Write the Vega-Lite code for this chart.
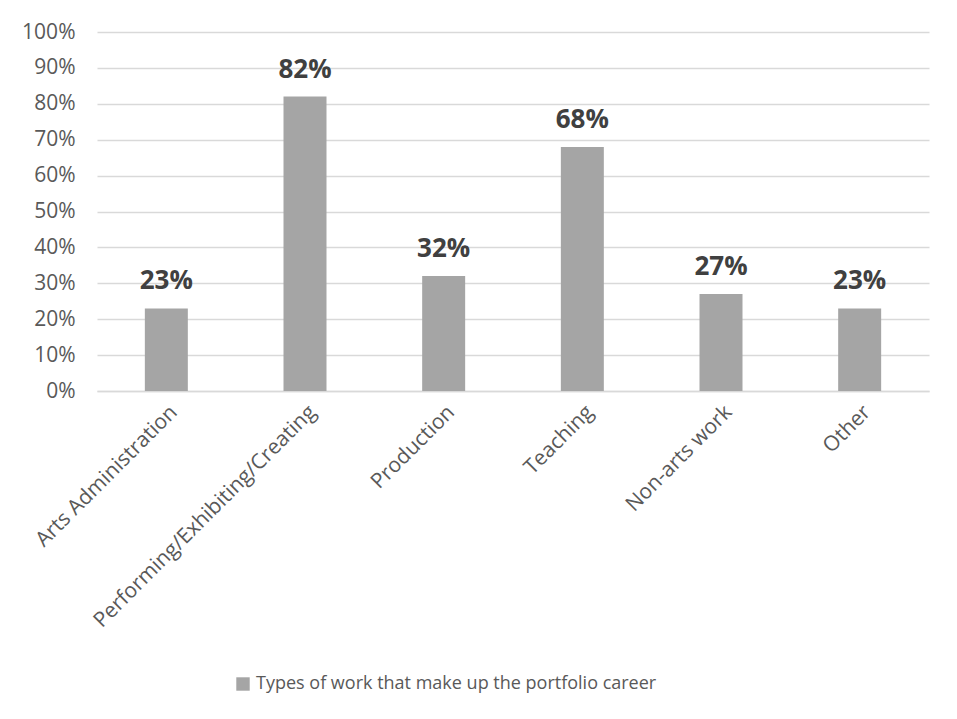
{
  "$schema": "https://vega.github.io/schema/vega-lite/v6.json",
  "width": 832,
  "height": 359,
  "autosize": {"type": "none"},
  "padding": {"left": 97, "top": 32, "right": 28, "bottom": 328},
  "background": "white",
  "config": {
    "view": {"stroke": null},
    "font": "Open Sans"
  },
  "data": {
    "values": [
      {"type": "Arts Administration", "value": 0.23, "series": "Types of work that make up the portfolio career"},
      {"type": "Performing/Exhibiting/Creating", "value": 0.82, "series": "Types of work that make up the portfolio career"},
      {"type": "Production", "value": 0.32, "series": "Types of work that make up the portfolio career"},
      {"type": "Teaching", "value": 0.68, "series": "Types of work that make up the portfolio career"},
      {"type": "Non-arts work", "value": 0.27, "series": "Types of work that make up the portfolio career"},
      {"type": "Other", "value": 0.23, "series": "Types of work that make up the portfolio career"}
    ]
  },
  "encoding": {
    "x": {
      "field": "type",
      "type": "nominal",
      "sort": null,
      "scale": {"paddingInner": 0.69, "paddingOuter": 0.345},
      "axis": {
        "title": null,
        "labelAngle": -45,
        "labelFontSize": 21,
        "labelColor": "#595959",
        "ticks": false,
        "domainColor": "#D9D9D9",
        "domainWidth": 1.5,
        "labelPadding": 10,
        "labelLimit": 400
      }
    },
    "y": {
      "field": "value",
      "type": "quantitative",
      "scale": {"domain": [0, 1], "nice": false},
      "axis": {
        "title": null,
        "format": ".0%",
        "values": [0, 0.1, 0.2, 0.3, 0.4, 0.5, 0.6, 0.7, 0.8, 0.9, 1],
        "labelFontSize": 21,
        "labelColor": "#595959",
        "labelPadding": 22,
        "ticks": false,
        "domain": false,
        "gridColor": "#D9D9D9",
        "gridWidth": 1.5
      }
    }
  },
  "layer": [
    {
      "mark": {"type": "bar"},
      "encoding": {
        "color": {
          "field": "series",
          "type": "nominal",
          "scale": {"range": ["#A5A5A5"]},
          "legend": {
            "title": null,
            "orient": "none",
            "legendX": 137,
            "legendY": 643,
            "symbolType": "square",
            "symbolSize": 180,
            "symbolStrokeWidth": 0,
            "labelFontSize": 18,
            "labelColor": "#595959",
            "labelLimit": 600,
            "labelOffset": 4
          }
        }
      }
    },
    {
      "mark": {"type": "text", "baseline": "alphabetic", "dy": -19, "fontSize": 26, "fontWeight": "bold", "color": "#404040"},
      "encoding": {
        "text": {"field": "value", "type": "quantitative", "format": ".0%"}
      }
    }
  ]
}
